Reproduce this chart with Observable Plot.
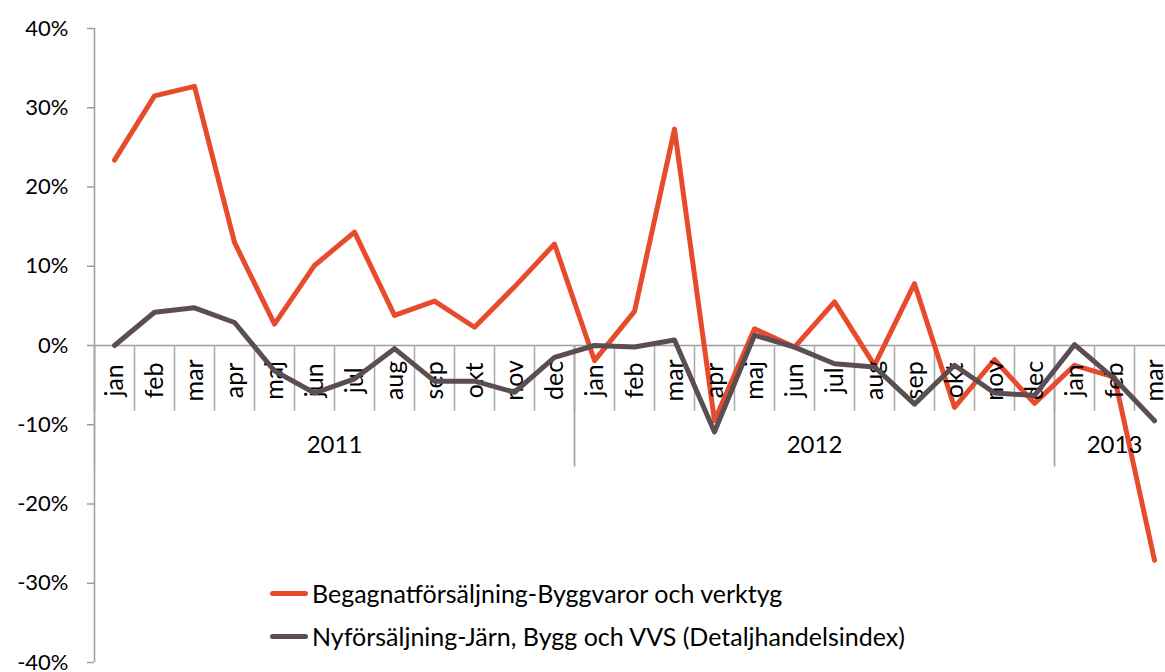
<!DOCTYPE html>
<html><head><meta charset="utf-8">
<script src="https://cdn.jsdelivr.net/npm/d3@7"></script>
<script src="https://cdn.jsdelivr.net/npm/@observablehq/plot@0.6"></script>
<style>
html,body{margin:0;padding:0;background:#fff;overflow:hidden;}
#wrap{position:relative;width:1165px;height:672px;overflow:hidden;font-family:Lato,"DejaVu Sans",sans-serif;}
#wrap svg{overflow:hidden;max-width:none;}
.legend{position:absolute;left:270px;display:flex;align-items:center;font-size:25px;color:#000;font-family:Lato,sans-serif;white-space:nowrap;}
.sw{width:38px;height:5px;border-radius:3px;margin-right:4px;}
</style></head>
<body><div id="wrap"></div>
<script>
const months = ["jan","feb","mar","apr","maj","jun","jul","aug","sep","okt","nov","dec",
                "jan","feb","mar","apr","maj","jun","jul","aug","sep","okt","nov","dec",
                "jan","feb","mar"];
const monthYears = ["2011","2011","2011","2011","2011","2011","2011","2011","2011","2011","2011","2011",
                    "2012","2012","2012","2012","2012","2012","2012","2012","2012","2012","2012","2012",
                    "2013","2013","2013"];
const yearLabels = ["2011","2012","2013"];
const seriesNames = ["Begagnatförsäljning-Byggvaror och verktyg","Nyförsäljning-Järn, Bygg och VVS (Detaljhandelsindex)"];
const begagnat = [23.4,31.5,32.7,13.0,2.7,10.1,14.3,3.8,5.6,2.3,7.4,12.8,
                  -1.9,4.3,27.3,-9.5,2.1,-0.2,5.5,-2.5,7.8,-7.8,-1.8,-7.3,
                  -2.5,-4.0,-27.1];
const nyforsaljning = [0,4.2,4.75,2.9,-3.2,-6.0,-4.2,-0.4,-4.5,-4.5,-5.9,-1.5,
                       0,-0.2,0.7,-10.9,1.3,-0.2,-2.3,-2.7,-7.4,-2.5,-6.0,-6.3,
                       0.1,-4.2,-9.5];
const yTicks = [-40,-30,-20,-10,0,10,20,30,40];
const colors = ["#E84B2C","#5A4E52"];

const idx = months.map((m,i)=>i);
const rowsA = idx.map(i => ({i, series: seriesNames[0], v: begagnat[i]}));
const rowsB = idx.map(i => ({i, series: seriesNames[1], v: nyforsaljning[i]}));
const monthRows = idx.map(i => ({i, label: months[i], year: monthYears[i]}));
const yearRows = yearLabels.map(y => {
  const ii = idx.filter(i => monthYears[i] === y);
  return {year: y, center: d3.mean(ii), start: d3.min(ii) - 0.5, end: d3.max(ii) + 0.5};
});
const bounds = d3.range(months.length + 1).map(k => k - 0.5);

const chart = Plot.plot({
  width: 1165, height: 672,
  marginLeft: 94, marginRight: -9, marginTop: 28, marginBottom: 10,
  style: {fontFamily: "Lato, sans-serif", background: "transparent"},
  x: {type: "linear", domain: [-0.5, months.length - 0.5], axis: null},
  y: {domain: [-40, 40], axis: null, label: null},
  marks: [
    Plot.ruleX([-0.5], {y1: -40, y2: 40, stroke: "#9c9c9c", strokeWidth: 1.5}),
    Plot.axisY({ticks: yTicks, label: null, tickSize: 7, tickPadding: 19, fontSize: 22, stroke: "#9c9c9c", fill: "#000", tickFormat: d => d + "%", strokeWidth: 1.5}),
    Plot.ruleY([0], {x1: -0.5, x2: months.length - 0.5, stroke: "#9c9c9c", strokeWidth: 1.5}),
    Plot.ruleX(bounds, {y1: 0, y2: -8.3, stroke: "#a8a8a8", strokeWidth: 1.5}),
    Plot.ruleX(yearRows, {x: "start", y1: 0, y2: -15.3, stroke: "#a8a8a8", strokeWidth: 1.5}),
    Plot.ruleX(yearRows, {x: "end", y1: 0, y2: -15.3, stroke: "#a8a8a8", strokeWidth: 1.5}),
    Plot.line(rowsA, {x: "i", y: "v", stroke: colors[0], strokeWidth: 5, strokeLinejoin: "round", strokeLinecap: "round"}),
    Plot.text(monthRows, {x: "i", y: -4.4, text: "label", rotate: -90, fontSize: 25, fill: "#000", textAnchor: "middle"}),
    Plot.text(yearRows, {x: "center", y: -12.6, text: "year", fontSize: 24, fill: "#000"}),
    Plot.line(rowsB, {x: "i", y: "v", stroke: colors[1], strokeWidth: 5, strokeLinejoin: "round", strokeLinecap: "round"})
  ]
});
const wrap = document.getElementById("wrap");
wrap.appendChild(chart);

const legendTops = [593, 636];
seriesNames.forEach((name, k) => {
  const div = document.createElement("div");
  div.className = "legend";
  div.style.top = (legendTops[k] - 15) + "px";
  div.style.height = "30px";
  const sw = document.createElement("span");
  sw.className = "sw";
  sw.style.background = colors[k];
  const t = document.createElement("span");
  t.textContent = name;
  div.appendChild(sw); div.appendChild(t);
  wrap.appendChild(div);
});
</script>
</body></html>
